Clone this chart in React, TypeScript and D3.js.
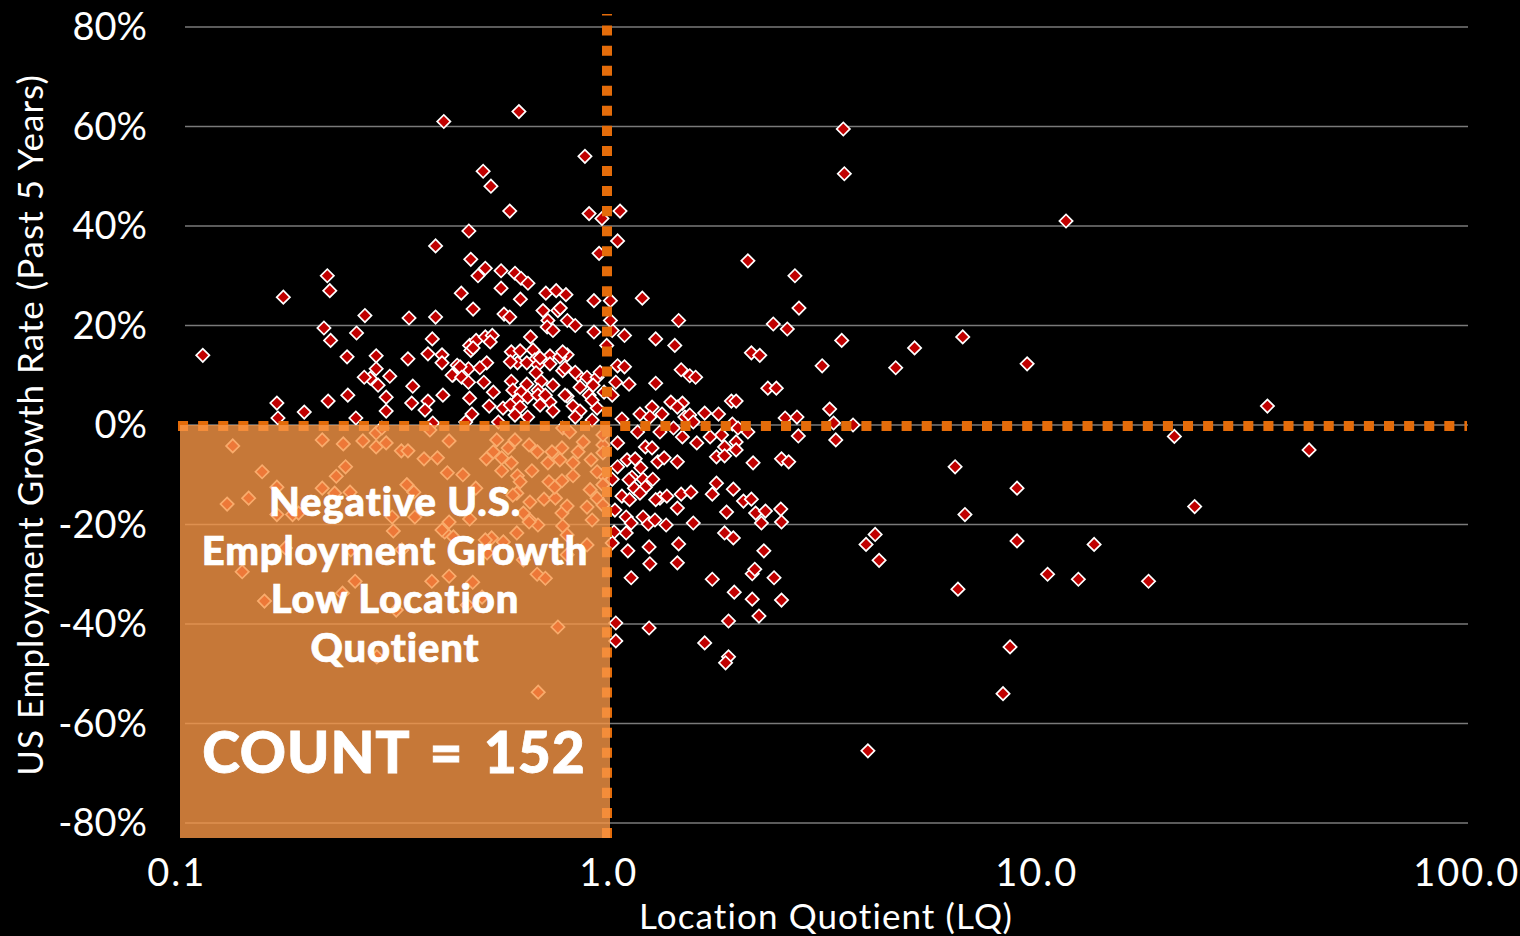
import React from "react";
import * as d3 from "d3";

// Each pair is [Location Quotient, US employment growth % over the past 5 years]
type P = [number, number];

const outliers: P[] = [
  [.115,14],[.418,61],[.625,63],[.89,54],[.516,51],[.538,48],[.595,43],[3.55,59.5],[3.57,50.5],[11.7,41],
  [.91,42.5],[.975,41.5],[1.074,43],[1.06,37],[.40,36],[.478,39],[.483,33.3],[.96,34.5],[2.13,33],[2.74,30],
  [.224,30],[.227,27],[.177,25.7],[2.8,23.5],[1.21,25.5],[2.44,20.3],[2.63,19.3],[3.52,17],[5.2,15.5],[6.73,17.7],
  [9.5,12.3],[4.7,11.5],[2.17,14.5],[2.27,14],[3.74,0],[34.4,3.8],[43,-5],[20.9,-2.3],
];

const upperLeftHigh: P[] = [
  [.522,31.5],[.502,30],[.459,26.5],[.568,31],[.568,27.5],[.612,30.5],[.632,29.5],[.656,28.5],[.63,25.3],[.722,26.5],
  [.763,27],[.804,26.2],[.934,25],[1.02,25],[.489,23.3],[.577,22.3],[.595,21.7],[.711,23],[.77,23],[.73,21],
  [.81,21],[.845,20],[.727,19.7],[.75,19],[.274,22],[.347,21.5],[.40,21.7],[.22,19.5],[.228,17],[.262,18.5],
  [.249,13.7],[.393,17.3],[.48,16],[.497,17],[.522,17.7],[.542,18],[.483,15],[.536,16.7],[.934,18.7],[1.0,16],
  [1.03,19],[1.1,18],[1.30,17.3],[1.44,16],[1.47,21],[1.02,21],[.78,23.5],[.665,17.7],
];

const upperLeftLow: P[] = [
  [.291,13.9],[.345,13.3],[.384,14.3],[.414,14.1],[.414,12.5],[.439,10],[.449,12],[.291,11.3],[.313,9.8],[.282,9.4],
  [.273,9.6],[.294,8],[.354,7.8],[.25,6],[.416,6],[.225,4.8],[.171,4.4],[.307,5.6],[.352,4.4],[.384,4.8],
  [.378,3],[.198,2.6],[.307,2.8],[.172,1.4],[.261,1.4],[.394,.4],
];

const upperDense: P[] = [
  [.489,15.5],[.60,14.7],[.629,14.9],[.674,15.1],[.738,13.9],[.809,14.1],[.778,13.7],[.681,13.1],[.62,12.5],[.597,12.7],
  [.652,12.5],[.738,12.3],[.692,12.1],[.526,12.5],[.477,11.3],[.507,11.5],[.456,11.7],[.437,10],[.46,9.6],[.79,10.9],
  [.858,10],[.685,10.5],[.90,9.6],[.95,9.6],[.477,8.6],[.518,8.6],[.60,8.8],[.704,8.8],[.652,8.2],[.867,7.6],
  [.93,8],[.545,6.6],[.605,7],[.632,6.6],[.692,7],[.91,6],[.809,5.8],[.48,5.4],[.655,5.6],[.692,6],
  [.62,5],[.738,4.6],[.70,4],[.835,3.8],[.533,3.8],[.574,3.4],[.597,4],[.629,3.6],[.867,2.8],[.95,3.4],
  [.75,2.8],[.612,2],[.486,2.2],[.655,1.6],[.845,1.6],[.925,1],[.56,.6],[.47,.6],[.79,14.7],[.70,13.5],
  [.80,11.5],[.845,10.6],[.75,8],[.80,6],[.72,6],[.965,10.6],[.986,6.6],[.925,5],[1.03,6],
];

const rightOfOne: P[] = [
  [1.06,11.9],[1.10,11.7],[1.127,8.2],[1.05,8.6],[1.30,8.4],[1.49,11.1],[1.56,9.9],[1.61,9.6],[1.95,4.8],[2.0,4.8],
  [2.37,7.4],[2.48,7.4],[3.17,11.9],[3.3,3.2],[2.6,1.4],[2.77,1.6],[3.37,.4],[2.79,-2.2],[3.41,-3],[1.82,2.2],
  [1.69,2.4],[1.5,4.4],[1.41,4.6],[1.46,3.6],[1.275,3.6],[1.195,2.2],[1.345,2.2],[1.085,1.2],[1.26,1.6],[1.52,1.6],
  [1.56,2],[1.59,.6],[1.43,-.6],[1.33,-1.4],[1.18,-1.4],[1.5,-2.4],[1.62,-3.6],[1.85,-2],[1.74,-2.4],[2.13,-1.4],
  [1.96,.2],[2.02,-.6],[1.06,-3.6],[1.23,-4.4],[1.275,-4.6],[1.88,-4.4],[2.0,-3.4],[2.0,-5],[1.8,-6.4],[1.88,-6.2],
  [1.315,-7.4],[1.36,-6.6],[1.46,-7.4],[2.19,-7.6],[2.55,-6.8],[2.65,-7.4],[1.115,-7],[1.165,-6.8],[1.06,-8.4],[1.2,-8.6],
  [1.145,-10.5],[1.215,-10.9],[1.28,-10.9],[1.03,-10.9],[1.127,-11],[1.16,-12.7],[1.23,-12.5],[1.195,-13.7],[1.085,-14.3],[1.13,-15],
  [1.33,-14.7],[1.38,-14.3],[1.30,-15],[1.49,-13.9],[1.57,-13.5],[1.8,-11.7],[1.76,-13.9],[1.97,-12.9],[2.08,-15.3],[2.17,-14.9],
  [1.46,-16.7],[1.9,-17.5],[2.22,-17.7],[2.34,-17.3],[2.54,-16.9],[1.045,-17.1],[1.11,-18.5],[1.215,-18.5],[1.25,-19.9],[1.295,-19.1],
  [1.375,-20.1],[1.59,-19.7],[2.29,-19.7],[2.55,-19.5],[1.14,-19.7],[1.11,-21.7],[1.04,-21.5],[1.88,-21.7],[1.97,-22.7],[1.03,-23.7],
  [1.255,-24.5],[1.47,-23.9],[1.12,-25.3],[2.32,-25.3],[1.26,-27.9],[1.46,-27.7],[1.14,-30.7],[1.76,-31],[1.98,-33.6],[2.18,-29.9],
  [2.21,-29],[2.45,-30.7],[2.18,-35],[2.55,-35.2],[1.92,-39.4],[2.26,-38.4],[1.05,-39.8],[1.05,-43.4],[1.255,-40.8],[1.69,-43.8],
  [1.92,-46.6],[1.89,-47.8],
];

const farRightLow: P[] = [
  [4.05,-65.5],[8.35,-54],[8.67,-44.6],[6.56,-33],[9.0,-23.3],[9.0,-12.7],[6.46,-8.4],[6.81,-18],[10.6,-30],[12.5,-31],
  [13.6,-24],[18.2,-31.4],[23.3,-16.4],[4.21,-22],[4.01,-24],[4.30,-27.2],
];

const lowerLeft: P[] = [
  [.135,-4.2],[.158,-9.4],[.171,-12.5],[.131,-15.9],[.147,-14.7],[.218,-12.7],[.218,-3],[.244,-3.8],[.271,-3.2],[.291,-4.4],
  [.307,-3.6],[.291,-1.6],[.333,-5.2],[.345,-5.2],[.376,-6.8],[.404,-6.6],[.43,-3.2],[.426,-9.6],[.463,-10],[.247,-8.4],
  [.235,-10.3],[.343,-12],[.356,-13.5],[.496,-12.7],[.233,-13.7],[.253,-13.5],[.171,-18],[.186,-18],[.192,-17.7],[.319,-21.3],
  [.317,-18.5],[.358,-18.5],[.43,-19.5],[.42,-21.5],[.44,-22.5],[.48,-18.9],[.142,-29.5],[.392,-31.4],[.43,-30.4],[.488,-31.6],
  [.26,-31.4],[.243,-33.8],[.16,-35.4],[.77,-40.6],[.693,-53.7],[.292,-46.6],[.689,-30],[.72,-30.8],[.618,-21.7],[.54,-22.7],
  [.522,-23.1],[.90,-24.1],[.692,-20.1],[.663,-19.1],[.79,-20.3],[.809,-22.1],[.787,-17.7],[.809,-16.3],[.90,-16.5],[.925,-19.1],
  [.95,-14.7],[.715,-14.9],[.76,-14.7],[.663,-15.5],[.64,-17.7],[.618,-13.7],[.605,-14.1],[.324,-37.2],[.254,-25.1],[.334,-25.1],
  [.64,-27.1],[.513,-34.6],[.474,-36.2],[.179,-24.7],[.575,-23.5],[.809,-26.1],[.527,-25.7],[.98,-4],[.98,-10],[.98,-2],
  [.98,-5.6],[.98,-16.1],[.555,-3],[.612,-3],[.59,-4.6],[.66,-4],[.69,-5.4],[.545,-5.4],[.525,-6.8],[.57,-6.6],
  [.60,-7.6],[.57,-9.2],[.67,-9.2],[.62,-10.2],[.629,-11.4],[.746,-5.4],[.787,-4.6],[.73,-7.6],[.778,-7],[.835,-7.6],
  [.858,-5.4],[.882,-3.4],[.92,-7],[.835,-10.2],[.787,-11.2],[.734,-11.4],[.757,-12.5],[.66,-19.5],[.414,-21.1],[.30,-.6],
  [.388,-1],[.79,-.6],[.82,-1.4],[.98,-12],[.95,-9.4],[.915,-13],
];

const points: P[] = [...outliers, ...upperLeftHigh, ...upperLeftLow, ...upperDense, ...rightOfOne, ...farRightLow, ...lowerLeft];

const yTicks = [80, 60, 40, 20, 0, -20, -40, -60, -80];
const xTicks = [0.1, 1, 10, 100];
const xTickLabels = ["0.1", "1.0", "10.0", "100.0"];
const noteLines = ["Negative U.S.", "Employment Growth", "Low Location", "Quotient"];
const countLabel = "COUNT = 152";
const xTitle = "Location Quotient (LQ)";
const yTitle = "US Employment Growth Rate (Past 5 Years)";

const FONT = "Lato, 'Open Sans', sans-serif";

export default function App() {
  const x = d3.scaleLog().domain([0.1, 100]).range([176.7, 1466.7]);
  const y = d3.scaleLinear().domain([-80, 80]).range([823, 27]);
  const diamond = d3.symbol().type(d3.symbolSquare).size(88)() as string;
  const oneX = x(1) + 0.3;
  const zeroY = y(0) + 1;
  return (
    <svg width={1520} height={936} style={{ position: "fixed", left: 0, top: 0, display: "block", background: "#000" }}>
      {yTicks.map((t) => (
        <g key={t}>
          <line x1={185} x2={1468} y1={y(t)} y2={y(t)} stroke="#7a7a7a" strokeWidth={1.5} />
          <text x={147} y={y(t) + 13} textAnchor="end" fill="#fff" fontFamily={FONT} fontSize={38}>{`${t}%`}</text>
        </g>
      ))}
      {points.map(([lq, g], i) => (
        <path key={i} d={diamond} transform={`translate(${x(lq)},${y(g)}) rotate(45)`} fill="#C00000" stroke="#fff" strokeWidth={1.7} />
      ))}
      <line x1={178} x2={1467} y1={zeroY} y2={zeroY} stroke="#E46C0A" strokeWidth={10} strokeDasharray="10.05 10.05" />
      <line x1={oneX} x2={oneX} y1={838} y2={14} stroke="#E46C0A" strokeWidth={10} strokeDasharray="10.03 10.03" />
      <rect x={180} y={y(0)} width={x(1) + 3.3 - 180} height={838 - y(0)} fill="#F79646" fillOpacity={0.8} />
      {noteLines.map((l, i) => (
        <text key={l} x={395} y={516 + i * 48.5} textAnchor="middle" fill="#fff" stroke="#fff" strokeWidth={0.7} fontFamily={FONT} fontWeight={900} fontSize={40} letterSpacing={0.9}>{l}</text>
      ))}
      <text x={394} y={773} textAnchor="middle" fill="#fff" stroke="#fff" strokeWidth={0.8} fontFamily={FONT} fontWeight={900} fontSize={57} wordSpacing={6} letterSpacing={0.9}>{countLabel}</text>
      {xTicks.map((t, i) => (
        <text key={t} x={x(t) + (i === 1 ? 2 : 0)} y={886} textAnchor="middle" fill="#fff" fontFamily={FONT} fontSize={38} letterSpacing={2}>{xTickLabels[i]}</text>
      ))}
      <text x={826} y={929} textAnchor="middle" fill="#fff" fontFamily={FONT} fontSize={35} letterSpacing={1.1}>{xTitle}</text>
      <text transform="translate(43,425) rotate(-90)" textAnchor="middle" fill="#fff" fontFamily={FONT} fontSize={35} letterSpacing={1}>{yTitle}</text>
    </svg>
  );
}
